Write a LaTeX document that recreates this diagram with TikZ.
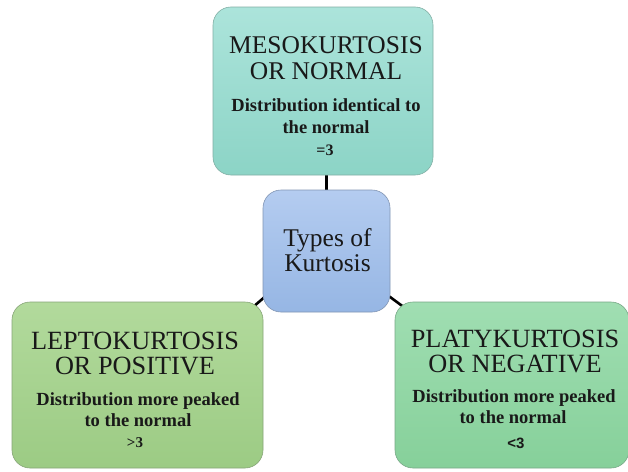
\documentclass[tikz,border=0pt]{standalone}
\usepackage{fontspec}
\setmainfont{Liberation Serif}
\newfontfamily\arialfont{Liberation Sans}
\usetikzlibrary{calc,backgrounds}
\definecolor{mesoTop}{RGB}{172,228,219}
\definecolor{mesoBot}{RGB}{140,212,198}
\definecolor{mesoLine}{RGB}{130,175,165}
\definecolor{typeTop}{RGB}{180,204,240}
\definecolor{typeBot}{RGB}{150,182,228}
\definecolor{typeLine}{RGB}{130,150,180}
\definecolor{leptoTop}{RGB}{178,218,156}
\definecolor{leptoBot}{RGB}{156,203,132}
\definecolor{leptoLine}{RGB}{135,165,120}
\definecolor{platyTop}{RGB}{160,222,178}
\definecolor{platyBot}{RGB}{134,208,154}
\definecolor{platyLine}{RGB}{120,168,135}
\begin{document}
\begin{tikzpicture}[x=1pt,y=-1pt,
  card/.style={rounded corners=18pt, draw=#1Line, top color=#1Top, bottom color=#1Bot,
    line width=0.6pt, inner sep=0pt, anchor=center},
  txt/.style={anchor=base, inner sep=0pt, text=black!90},
  title/.style={txt, font=\fontsize{26.3}{28}\selectfont},
  sub/.style={txt, font=\bfseries\fontsize{18.5}{20}\selectfont},
  val/.style={txt, font=\bfseries\fontsize{15}{17}\selectfont},
  link/.style={line width=2.6pt, black}]
\useasboundingbox (0,0) rectangle (628,471);

% top box
\node[card=meso, minimum width=220pt, minimum height=168pt] (meso) at (323,91) {};
\node[title, font=\fontsize{25.5}{28}\selectfont] (meso1) at (326,53) {MESOKURTOSIS};
\node[title, font=\fontsize{25.5}{28}\selectfont] (meso2) at (326,79) {OR NORMAL};
\node[sub] (meso3) at (326,111) {Distribution identical to};
\node[sub] (meso4) at (326,133) {the normal};
\node[val, font=\bfseries\fontsize{16}{18}\selectfont] (meso5) at (325,155) {=3};

% centre box
\node[card=type, minimum width=127pt, minimum height=122pt] (types) at (326.5,251) {};
\node[txt, font=\fontsize{25.5}{28}\selectfont] (types1) at (327.5,246) {Types of};
\node[txt, font=\fontsize{25.5}{28}\selectfont] (types2) at (327.5,271) {Kurtosis};

% left box
\node[card=lepto, minimum width=251pt, minimum height=166pt] (lepto) at (137.5,385) {};
\node[title] (lepto1) at (135,349) {LEPTOKURTOSIS};
\node[title] (lepto2) at (135,374) {OR POSITIVE};
\node[sub] (lepto3) at (138,405) {Distribution more peaked};
\node[sub] (lepto4) at (138,426) {to the normal};
\node[val] (lepto5) at (135,447) {>3};

% right box
\node[card=platy, minimum width=234pt, minimum height=166pt] (platy) at (512,385) {};
\node[title] (platy1) at (515,347) {PLATYKURTOSIS};
\node[title] (platy2) at (515,372) {OR NEGATIVE};
\node[sub] (platy3) at (514,402) {Distribution more peaked};
\node[sub] (platy4) at (513,423) {to the normal};
\node[val, font=\arialfont\bfseries\fontsize{15}{17}\selectfont] (platy5) at (516,448) {<3};

% connectors sit behind the boxes
\begin{scope}[on background layer]
\fill[white] (0,0) rectangle (628,471);
\draw[link] (meso.south -| types.north) -- (types.north);
\draw[link] ($(types.south west)+(12,-24)$) -- ($(lepto.north east)+(-18,12)$);
\draw[link] ($(types.south east)+(-12,-24)$) -- ($(platy.north west)+(18,12)$);
\end{scope}
\end{tikzpicture}
\end{document}
